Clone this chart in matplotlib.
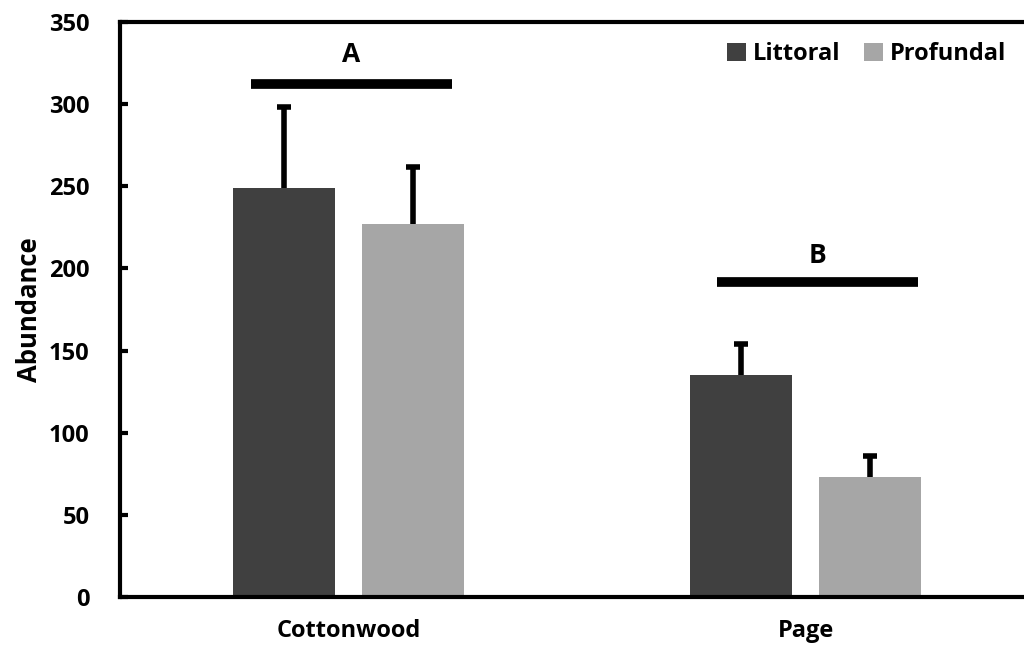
import matplotlib.pyplot as plt
import numpy as np

# data
sites = ["Cottonwood", "Page"]
littoral = [249, 135]
profundal = [227, 73]
littoral_err = [49, 19]
profundal_err = [35, 13]
groups = ["A", "B"]
group_line_y = [312, 192]
group_text_y = [330, 208]

dark = "#404040"
light = "#a6a6a6"

plt.rcParams['font.family'] = ['Open Sans', 'DejaVu Sans']
plt.rcParams['font.weight'] = 'bold'
fs = 17

fig = plt.figure(figsize=(10.24, 6.45), dpi=100)
ax = fig.add_axes([120 / 1024, 48 / 645, 914 / 1024, 575 / 645])

x = np.arange(len(sites))
w = 0.223
off = 0.142
err_kw = dict(ecolor="black", elinewidth=4, capsize=5, capthick=4, fmt="none", zorder=1)

ax.bar(x - off, littoral, w, color=dark, label="Littoral", zorder=2)
ax.bar(x + off, profundal, w, color=light, label="Profundal", zorder=2)
for xs, vals, errs in [(x - off, littoral, littoral_err), (x + off, profundal, profundal_err)]:
    eb = ax.errorbar(xs, vals, yerr=[np.zeros(2), errs], **err_kw)
    eb[1][0].set_visible(False)  # no cap at the bar top

# significance lines and letters
line_x = [(-0.213, 0.226), (-0.194, 0.246)]
for i, g in enumerate(groups):
    x0, x1 = line_x[i]
    ax.plot([i + x0, i + x1], [group_line_y[i], group_line_y[i]], color="black", lw=7, solid_capstyle="butt")
    ax.text(i + (x0 + x1) / 2, group_text_y[i], g, ha="center", va="center", fontsize=19, fontweight="bold")

ax.set_xlim(-0.5, 1.5)
ax.set_ylim(0, 350)
ax.set_yticks(np.arange(0, 351, 50))
ax.set_xticks(x)
ax.set_xticklabels(sites)
ax.tick_params(axis="y", direction="in", length=6, width=3, pad=22, labelsize=fs)
ax.tick_params(axis="x", length=0, pad=16, labelsize=fs)
for lab in ax.get_xticklabels() + ax.get_yticklabels():
    lab.set_fontweight("bold")
for s in ax.spines.values():
    s.set_linewidth(3)

ax.set_ylabel("Abundance", fontsize=18.5, fontweight="bold", labelpad=4)

ax.legend(loc="upper right", bbox_to_anchor=(1006 / 1024, 1 - 42 / 645), bbox_transform=fig.transFigure,
          ncol=2, frameon=False, borderpad=0, borderaxespad=0,
          handlelength=0.8, handleheight=0.8, handletextpad=0.3, columnspacing=1.0,
          prop={'weight': 'bold', 'size': fs})

fig.savefig("out.png", dpi=100)
